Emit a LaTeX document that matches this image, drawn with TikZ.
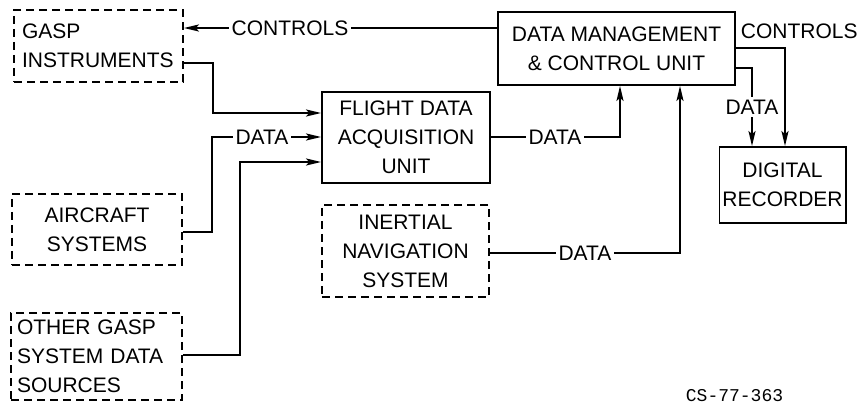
\documentclass[tikz,border=0pt]{standalone}
\usepackage{fontspec}
\setmainfont{Liberation Sans}
\newfontfamily\codefont{Liberation Mono}
\usetikzlibrary{arrows.meta}

\begin{document}
\begin{tikzpicture}[x=1pt,y=-1pt,
  line width=1.8pt,
  font=\fontsize{21}{29}\selectfont,
  unitbox/.style n args={2}{draw, solid, minimum width=#1, minimum height=#2,
    inner sep=3pt, align=center},
  extbox/.style n args={2}{unitbox={#1}{#2}, dash pattern=on 8pt off 5pt},
  extleft/.style n args={3}{draw, dash pattern=on 8pt off 5pt,
    text width=#1-2*#3, inner xsep=#3, inner ysep=0pt, minimum height=#2, align=left},
  flow/.style={-{Stealth[length=15pt,width=7pt,inset=3pt]}},
  tag/.style={inner sep=2pt}]

\useasboundingbox (0,0) rectangle (861,403);

% sources and units
\node[extleft={169pt}{72pt}{8pt}] (gasp) at (98.5,46) {GASP\\INSTRUMENTS};
\node[extbox={170pt}{71pt}] (air) at (97,229.5) {AIRCRAFT\\SYSTEMS};
\node[extleft={171pt}{87pt}{6pt}] (other) at (96.5,356.5) {OTHER GASP\\SYSTEM DATA\\SOURCES};
\node[unitbox={168pt}{91pt}] (fdau) at (406,137.5) {FLIGHT DATA\\ACQUISITION\\UNIT};
\node[extbox={167pt}{92pt}] (ins) at (405.5,251) {INERTIAL\\NAVIGATION\\SYSTEM};
\node[unitbox={237pt}{73pt}] (dmcu) at (616.5,48.5) {DATA MANAGEMENT\\\& CONTROL UNIT};
\node[unitbox={121pt}{76pt}] (rec) at (782.5,185) {DIGITAL\\RECORDER};

% connector labels
\node[tag] (ctlA) at (290,28) {CONTROLS};
\node[tag] (dA) at (262,137) {DATA};
\node[tag] (dB) at (555,137) {DATA};
\node[tag] (dC) at (585,253) {DATA};
\node[tag] (dD) at (752,107) {DATA};
\node[tag, anchor=west] (ctlB) at (738,31) {CONTROLS};

% bend points
\coordinate (b1) at (213,113);
\coordinate (b2) at (212,232);
\coordinate (b3) at (240,355);
\coordinate (b3t) at (240,162);
\coordinate (b4) at (620,137);
\coordinate (b5) at (680,253);
\coordinate (b6) at (785,48);
\coordinate (b7) at (752,68);

% control line back to the instruments
\draw (dmcu.west |- ctlA) -- (ctlA.east);
\draw[flow] (ctlA.west) -- (gasp.east |- ctlA);

% inputs to the acquisition unit
\draw[flow] ([yshift=-17pt]gasp.east) -| (b1) -- (b1 -| fdau.west);
\draw (air.east |- b2) -- (b2) |- (dA.west);
\draw[flow] (dA.east) -- (dA -| fdau.west);
\draw[flow] (other.east |- b3) -- (b3) -- (b3t) -- (b3t -| fdau.west);

% data into the management unit
\draw (fdau.east |- dB) -- (dB.west);
\draw[flow] (dB.east) -| (b4 |- dmcu.south);
\draw (ins.east |- dC) -- (dC.west);
\draw[flow] (dC.east) -| (b5 |- dmcu.south);

% outputs to the recorder
\draw[flow] (dmcu.east |- b6) -| (b6 |- rec.north);
\draw (dmcu.east |- b7) -| (dD.north);
\draw[flow] (dD.south) -- (dD.south |- rec.north);

% figure number
\node[anchor=base west, inner sep=0pt, font=\codefont\fontsize{18}{18}\selectfont] (cs) at (685,401) {CS-77-363};
\end{tikzpicture}
\end{document}
